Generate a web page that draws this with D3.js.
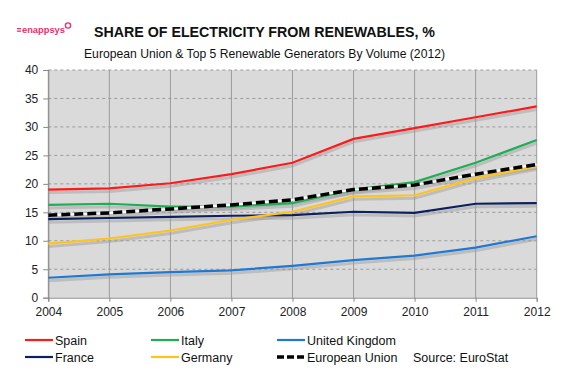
<!DOCTYPE html>
<html><head><meta charset="utf-8">
<script src="https://cdn.jsdelivr.net/npm/d3@7"></script>
<style>body{margin:0;background:#fff}svg{display:block;font-family:"Liberation Sans",Arial,sans-serif}</style>
</head><body><svg id="c" width="575" height="381"></svg>
<script>
const years = [2004,2005,2006,2007,2008,2009,2010,2011,2012];
const spain   = [19.0,19.2,20.1,21.7,23.7,27.9,29.8,31.7,33.6];
const italy   = [16.3,16.5,16.0,16.0,16.6,19.0,20.3,23.7,27.7];
const uk      = [3.5,4.1,4.5,4.8,5.6,6.6,7.4,8.8,10.8];
const france  = [13.8,14.0,14.2,14.4,14.5,15.1,14.9,16.5,16.6];
const germany = [9.5,10.4,11.8,13.7,15.1,17.8,18.0,21.0,23.1];
const eu      = [14.5,14.9,15.6,16.3,17.2,19.0,19.8,21.7,23.4];
const yTicks = [0,5,10,15,20,25,30,35,40];

const series = [
  {name:"Spain", values:spain, color:"#ff1a1a"},
  {name:"Italy", values:italy, color:"#1fae55"},
  {name:"United Kingdom", values:uk, color:"#1f78d1"},
  {name:"France", values:france, color:"#0d1f5c"},
  {name:"Germany", values:germany, color:"#ffc31a"},
  {name:"European Union", values:eu, color:"#000", dashed:true}
];

const svg = d3.select("#c");
const x = d3.scaleLinear().domain([2004,2012]).range([48.3,536.7]);
const y = d3.scaleLinear().domain([0,40]).range([297.7,70]);

svg.append("rect").attr("x",x(2004)).attr("y",y(40)).attr("width",x(2012)-x(2004)).attr("height",y(0)-y(40)).attr("fill","#dadada");

svg.append("g").selectAll("line").data(yTicks.filter(d=>d>0)).join("line")
  .attr("x1",x(2004)).attr("x2",x(2012)).attr("y1",d=>y(d)).attr("y2",d=>y(d))
  .attr("stroke","#9a9a9a").attr("stroke-width",1).attr("stroke-dasharray","3,3");
svg.append("g").selectAll("line").data(years).join("line")
  .attr("x1",d=>x(d)).attr("x2",d=>x(d)).attr("y1",y(40)).attr("y2",y(0))
  .attr("stroke","#9c9c9c").attr("stroke-width",1);

const yAxis = svg.append("g").attr("transform",`translate(${x(2004)},0)`)
  .call(d3.axisLeft(y).tickValues(yTicks).tickSize(5).tickPadding(5));
yAxis.select(".domain").attr("stroke","#888");
yAxis.selectAll(".tick line").attr("stroke","#888");
yAxis.selectAll("text").attr("font-size",12).attr("fill","#222").attr("font-family","Liberation Sans, Arial, sans-serif");
const xAxis = svg.append("g").attr("transform",`translate(0,${y(0)})`)
  .call(d3.axisBottom(x).tickValues(years).tickFormat(d3.format("d")).tickSize(4).tickPadding(6));
xAxis.select(".domain").attr("stroke","#888");
xAxis.selectAll(".tick line").attr("stroke","#888");
xAxis.selectAll("text").attr("font-size",12).attr("fill","#222").attr("font-family","Liberation Sans, Arial, sans-serif");

const line = d3.line().x((d,i)=>x(years[i])).y(d=>y(d)).curve(d3.curveLinear);

const g = svg.append("g");
series.forEach(s=>{
  g.append("path").attr("d",line(s.values)).attr("fill","none")
    .attr("stroke","#999").attr("stroke-opacity",0.45).attr("stroke-width",s.dashed?4:3)
    .attr("transform","translate(0,3)");
});
series.forEach(s=>{
  if(s.dashed){
    g.append("path").attr("d",line(s.values)).attr("fill","none").attr("stroke","#fff").attr("stroke-width",2);
    g.append("path").attr("d",line(s.values)).attr("fill","none").attr("stroke","#000").attr("stroke-width",3.5).attr("stroke-dasharray","9,4");
  } else {
    g.append("path").attr("d",line(s.values)).attr("fill","none").attr("stroke",s.color).attr("stroke-width",2.2);
  }
});

svg.append("text").attr("x",264.5).attr("y",37).attr("text-anchor","middle").attr("font-size",15).attr("font-weight","bold").attr("fill","#111")
  .attr("textLength",341).attr("lengthAdjust","spacingAndGlyphs").text("SHARE OF ELECTRICITY FROM RENEWABLES, %");
svg.append("text").attr("x",264.5).attr("y",58).attr("text-anchor","middle").attr("font-size",13).attr("fill","#111")
  .attr("textLength",361).attr("lengthAdjust","spacingAndGlyphs").text("European Union & Top 5 Renewable Generators By Volume (2012)");

const logo = svg.append("g").attr("fill","#e8336e");
logo.append("rect").attr("x",17).attr("y",28).attr("width",4).attr("height",1.3);
logo.append("rect").attr("x",17).attr("y",30.5).attr("width",4).attr("height",1.3);
logo.append("text").attr("x",22).attr("y",32.5).attr("font-size",9).attr("font-weight","bold")
  .attr("textLength",43).attr("lengthAdjust","spacingAndGlyphs").text("enappsys");
logo.append("circle").attr("cx",68).attr("cy",25.5).attr("r",2.6).attr("fill","none").attr("stroke","#e8336e").attr("stroke-width",1.4);

const legPos = [[25,340],[151,340],[277,340],[25,357],[151,357],[277,357]];
series.forEach((s,i)=>{
  const [lx,ly] = legPos[i];
  const lg = svg.append("g");
  lg.append("line").attr("x1",lx).attr("x2",lx+28).attr("y1",ly).attr("y2",ly)
    .attr("stroke",s.color).attr("stroke-width",s.dashed?3.5:2.2).attr("stroke-dasharray",s.dashed?"7,3":null);
  lg.append("text").attr("x",lx+30).attr("y",ly+4.5).attr("font-size",12.5).attr("fill","#111").text(s.name);
});
svg.append("text").attr("x",413).attr("y",361.5).attr("font-size",12.5).attr("fill","#111").text("Source: EuroStat");
</script></body></html>
